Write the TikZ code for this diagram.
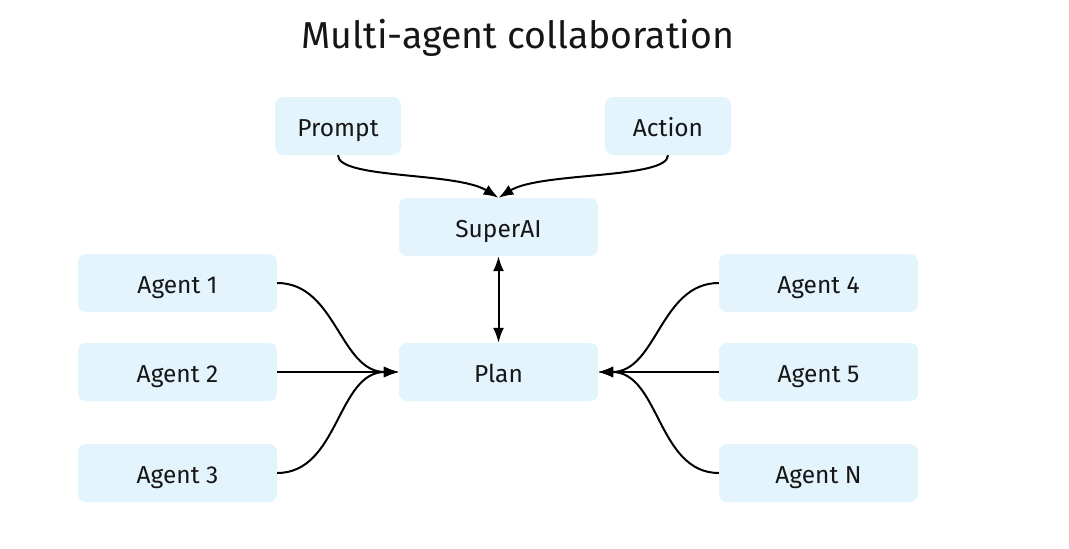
\documentclass[tikz,border=0pt]{standalone}
\usepackage{fontspec}
\setmainfont{Fira Sans}
\usetikzlibrary{arrows.meta}
\definecolor{boxfill}{HTML}{E3F4FD}
\definecolor{txt}{HTML}{161616}
\begin{document}
\begin{tikzpicture}[x=1pt,y=-1pt,
  box/.style={fill=boxfill, rounded corners=8pt, minimum width=199pt, minimum height=58pt, inner sep=0pt, font=\fontsize{24.5}{29}\selectfont, text=txt, text height=21.5pt, text depth=0pt},
  sbox/.style={box, minimum width=126pt},
  conn/.style={line width=2pt, -{Latex[length=15pt,width=11pt]}},
  dconn/.style={line width=2pt, {Latex[length=15pt,width=11pt]}-{Latex[length=15pt,width=11pt]}}]
\useasboundingbox (0,0) rectangle (1069,549);
\node[font=\fontsize{37.5}{44}\selectfont, text=txt, anchor=base, inner sep=0pt] (title) at (518,48) {Multi-agent collaboration};
\node[sbox] (prompt) at (338,126) {Prompt};
\node[sbox] (action) at (668,126) {Action};
\node[box] (superai) at (498.5,227) {SuperAI};
\node[box] (plan) at (498.5,372) {Plan};
\node[box] (a1) at (177.5,283) {Agent 1};
\node[box] (a2) at (177.5,372) {Agent 2};
\node[box] (a3) at (177.5,473) {Agent 3};
\node[box] (a4) at (818.5,283) {Agent 4};
\node[box] (a5) at (818.5,372) {Agent 5};
\node[box] (aN) at (818.5,473) {Agent N};
\draw[conn] (prompt.south) .. controls ++(0,24) and ++(-42,-26) .. (superai.north);
\draw[conn] (action.south) .. controls ++(0,24) and ++(42,-26) .. (superai.north);
\draw[dconn] (superai.south) -- (plan.north);
\draw[conn] (a1.east) to[out=0,in=180] (plan.west);
\draw[conn] (a2.east) -- (plan.west);
\draw[conn] (a3.east) to[out=0,in=180] (plan.west);
\draw[conn] (a4.west) to[out=180,in=0] (plan.east);
\draw[conn] (a5.west) -- (plan.east);
\draw[conn] (aN.west) to[out=180,in=0] (plan.east);
\end{tikzpicture}
\end{document}
